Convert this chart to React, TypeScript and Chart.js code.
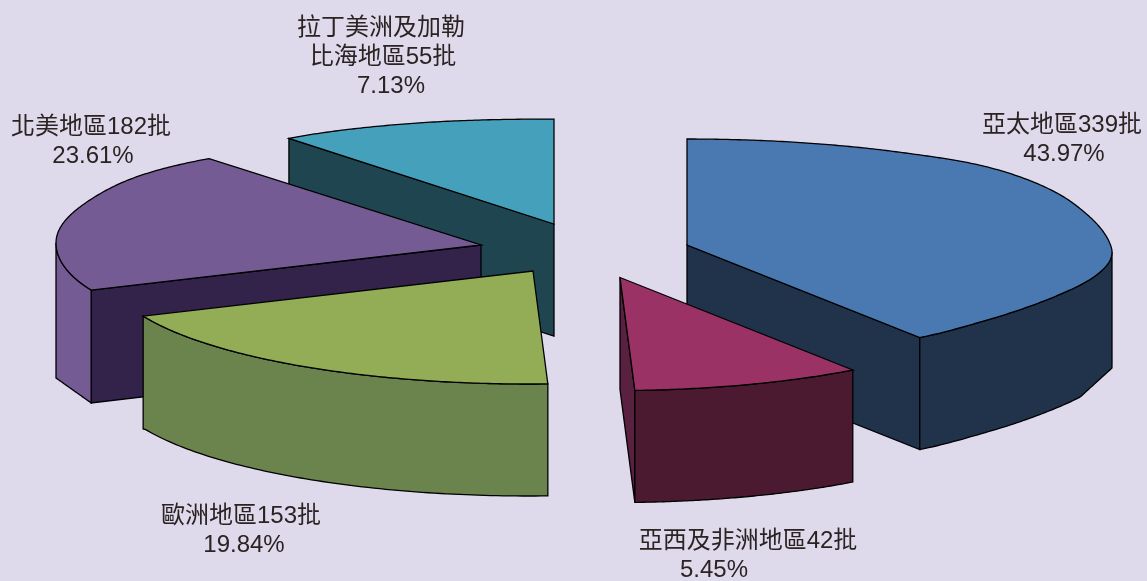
import React, { useEffect, useRef } from "react";
import { Chart, registerables, ArcElement, PieController } from "chart.js";

const categories = ["亞太地區", "亞西及非洲地區", "歐洲地區", "北美地區", "拉丁美洲及加勒比海地區"];
const batches = [339, 42, 153, 182, 55];
const shares = ["43.97%", "5.45%", "19.84%", "23.61%", "7.13%"];

const topColors = ["#4A79B2", "#9A3265", "#92AD55", "#755B94", "#45A0BC"];
const radialWallColors = ["#20334B", "#5A2040", "#6B844E", "#33234A", "#1F4650"];
const outerWallColors = ["#20334B", "#4B1A31", "#6B844E", "#755B94", "#1F4650"];

// slice explosion, in pixels, from the pie centre
const explodeX = [113.5, 46.5, -40.5, -92.5, -19.5];
const explodeY = [-45.5, -13, -19.5, -45.5, -66.5];
// foreshortening of slices pushed to the back
const sliceScaleX = [1, 1, 1, 1, 0.975];
const sliceScaleY = [1, 1, 1, 1, 0.99];

// perspective of the view: true pie angle -> angle on the projected ellipse
const trueAngles = [0, 158.3, 177.9, 249.3, 334.3, 360];
const viewAngles = [0, 146.8, 178, 246.5, 320.2, 360];

// rim correction (px) of the projected ellipse, by view angle
const rimAngles = [0, 30, 45, 60, 72, 84, 90, 105, 120, 135, 147, 180, 250, 270, 290, 305, 320, 340, 360];
const rimShift = [0, -1, -3, 0, 6, 9, 7, 0, -5, -5, -2, 0, 0, -2, -3, -6, -5, -2, 0];

const RX_RATIO = 425 / 290;
const RY_BACK = 106 / 290;
const RY_FRONT = 113 / 290;
const DEPTH_RATIO = 112 / 290;

const labelLines = [
  [{ t: categories[0] + batches[0] + "批", x: 1062, y: 125 }, { t: shares[0], x: 1064, y: 154 }],
  [{ t: categories[1] + batches[1] + "批", x: 748, y: 541 }, { t: shares[1], x: 714, y: 570 }],
  [{ t: categories[2] + batches[2] + "批", x: 241, y: 516 }, { t: shares[2], x: 244, y: 545 }],
  [{ t: categories[3] + batches[3] + "批", x: 91, y: 127 }, { t: shares[3], x: 93, y: 156 }],
  [{ t: "拉丁美洲及加勒", x: 381, y: 28 }, { t: "比海地區" + batches[4] + "批", x: 383, y: 57 }, { t: shares[4], x: 391, y: 86 }],
];

function lerpTable(xs: number[], ys: number[], v: number) {
  for (let i = 1; i < xs.length; i++) {
    if (v <= xs[i] + 1e-6) {
      const f = (v - xs[i - 1]) / (xs[i] - xs[i - 1]);
      return ys[i - 1] + f * (ys[i] - ys[i - 1]);
    }
  }
  return ys[ys.length - 1];
}

// Catmull-Rom through the table, so the rim stays a smooth curve
function smoothTable(xs: number[], ys: number[], v: number) {
  for (let i = 1; i < xs.length; i++) {
    if (v <= xs[i] + 1e-6) {
      const h = xs[i] - xs[i - 1];
      const f = (v - xs[i - 1]) / h;
      const y0 = ys[i - 1];
      const y1 = ys[i];
      const m0 = i > 1 ? ((y1 - ys[i - 2]) / (xs[i] - xs[i - 2])) * h : 0;
      const m1 = i < xs.length - 1 ? ((ys[i + 1] - y0) / (xs[i + 1] - xs[i - 1])) * h : 0;
      const f2 = f * f;
      const f3 = f2 * f;
      return (2 * f3 - 3 * f2 + 1) * y0 + (f3 - 2 * f2 + f) * m0 + (-2 * f3 + 3 * f2) * y1 + (f3 - f2) * m1;
    }
  }
  return ys[ys.length - 1];
}

class Pie3DArc extends ArcElement {
  static id = "pie3dArc";
  index = 0;
  apex() {
    const p: any = this.getProps(["x", "y"], true);
    return { x: p.x + explodeX[this.index], y: p.y + explodeY[this.index] };
  }
  draw(ctx: CanvasRenderingContext2D) {
    const p: any = this.getProps(["startAngle", "endAngle", "outerRadius"], true);
    const i = this.index;
    const r = p.outerRadius;
    const a = this.apex();
    const base = Math.PI / 2;
    const s = lerpTable(trueAngles, viewAngles, Math.max(0, ((p.startAngle + base) * 180) / Math.PI));
    const e = lerpTable(trueAngles, viewAngles, Math.min(360, ((p.endAngle + base) * 180) / Math.PI));
    const point = (deg: number) => {
      const t = (deg * Math.PI) / 180;
      const c = Math.cos(t);
      return {
        x: a.x + r * RX_RATIO * sliceScaleX[i] * Math.sin(t),
        y: a.y - r * (c > 0 ? RY_BACK : RY_FRONT) * sliceScaleY[i] * c + smoothTable(rimAngles, rimShift, deg),
      };
    };
    const depthAt = (deg: number) => {
      const t = (deg * Math.PI) / 180;
      const sn = Math.sin(t);
      const d0 = r * DEPTH_RATIO;
      if (Math.cos(t) < 0) {
        // near each rim the lower edge runs straight to the corner
        if (-sn > 0.917) return d0 + 46 - 25 * ((-sn - 0.917) / 0.083) - (point(deg).y - a.y);
        if (sn > 0.925) return d0 + 11 + 29 * ((1 - sn) / 0.075) - (point(deg).y - a.y);
      }
      return d0;
    };
    const poly = (pts: { x: number; y: number }[], fill: string) => {
      ctx.beginPath();
      pts.forEach((q, k) => (k ? ctx.lineTo(q.x, q.y) : ctx.moveTo(q.x, q.y)));
      ctx.closePath();
      ctx.fillStyle = fill;
      ctx.fill();
      ctx.stroke();
    };
    const radialWall = (deg: number) => {
      const q = point(deg);
      const d = depthAt(deg);
      poly([a, q, { x: q.x, y: q.y + d }, { x: a.x, y: a.y + r * DEPTH_RATIO }], radialWallColors[i]);
    };
    ctx.save();
    ctx.strokeStyle = "#000";
    ctx.lineWidth = 1.3;
    ctx.lineJoin = "miter";
    const sinS = Math.sin((s * Math.PI) / 180);
    const sinE = Math.sin((e * Math.PI) / 180);
    if (sinS < -1e-6) radialWall(s);
    if (sinE > 1e-6) radialWall(e);
    const fs = Math.max(s, 90);
    const fe = Math.min(e, 270);
    if (fe > fs) {
      const up: any[] = [];
      const dn: any[] = [];
      for (let k = 0; k <= 80; k++) {
        const d = fs + ((fe - fs) * k) / 80;
        const q = point(d);
        up.push(q);
        dn.unshift({ x: q.x, y: q.y + depthAt(d) });
      }
      poly(up.concat(dn), outerWallColors[i]);
    }
    const top: any[] = [a];
    const steps = Math.max(8, Math.ceil((e - s) * 2));
    for (let k = 0; k <= steps; k++) top.push(point(s + ((e - s) * k) / steps));
    poly(top, topColors[i]);
    ctx.restore();
  }
}

class Pie3DController extends PieController {
  static id = "pie3d";
  static defaults = { dataElementType: "pie3dArc" };
  draw() {
    const chart: any = (this as any).chart;
    const ctx = chart.ctx;
    const els: any[] = ((this as any)._cachedMeta.data || []).slice();
    els.forEach((el, idx) => (el.index = idx));
    els.sort((p, q) => p.apex().y - q.apex().y);
    els.forEach((el) => el.draw(ctx, chart.chartArea));
  }
}

Chart.register(...registerables, Pie3DArc as any, Pie3DController as any);

const labelPlugin = {
  id: "sliceLabels",
  afterDraw(chart: any) {
    const ctx = chart.ctx;
    ctx.save();
    ctx.font = '24px "Liberation Sans", "Noto Sans CJK TC", sans-serif';
    ctx.fillStyle = "#2B2222";
    ctx.textAlign = "center";
    ctx.textBaseline = "middle";
    labelLines.forEach((lines) => lines.forEach((l) => ctx.fillText(l.t, l.x, l.y)));
    ctx.restore();
  },
};

export default function App() {
  const ref = useRef<HTMLCanvasElement>(null);
  useEffect(() => {
    document.body.style.margin = "0";
    document.body.style.background = "#DEDAEC";
    const chart = new Chart(ref.current as HTMLCanvasElement, {
      type: "pie3d" as any,
      data: {
        labels: categories,
        datasets: [{ data: batches, backgroundColor: topColors, borderColor: "#000", borderWidth: 1, clip: false } as any],
      },
      options: {
        animation: false,
        responsive: false,
        events: [],
        layout: { padding: 0 },
        plugins: { legend: { display: false }, tooltip: { enabled: false } },
      } as any,
      plugins: [labelPlugin],
    });
    return () => chart.destroy();
  }, []);
  return (
    <div style={{ width: 1147, height: 581, background: "#DEDAEC" }}>
      <canvas ref={ref} width={1147} height={581} style={{ display: "block" }} />
    </div>
  );
}
